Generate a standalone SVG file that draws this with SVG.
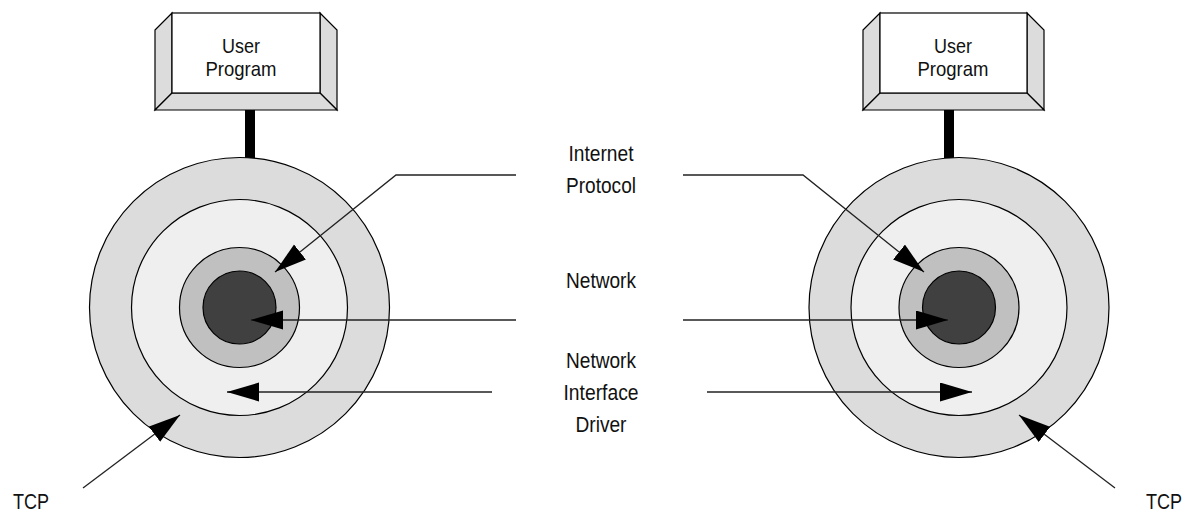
<svg xmlns="http://www.w3.org/2000/svg" width="1198" height="512" viewBox="0 0 1198 512">
  <style>
    .lbl { font-family: "Liberation Sans", Arial, sans-serif; font-size: 22px; fill: #111; }
    .box { font-size: 21px; }
    .mid { text-anchor: middle; }
    .edge { stroke: #000; stroke-width: 1.2; }
    .bevel { fill: #dcdcdc; stroke: #000; stroke-width: 1.2; stroke-linejoin: miter; }
    .face { fill: #fff; stroke: #000; stroke-width: 1.2; }
    .ring1 { fill: #dcdcdc; }
    .ring2 { fill: #efefef; }
    .ring3 { fill: #c0c0c0; }
    .core { fill: #404040; }
    .conn { fill: none; stroke: #222; stroke-width: 1.3; marker-end: url(#head); }
  </style>
  <defs>
    <marker id="head" markerUnits="userSpaceOnUse" markerWidth="33" markerHeight="20" refX="32" refY="9.5" orient="auto">
      <path d="M0,0 L32,9.5 L0,19 z" fill="#000"/>
    </marker>
  </defs>

  <rect width="1198" height="512" fill="#fff"/>

  <!-- left host: user program box -->
  <g id="user-program-left">
    <polygon class="bevel" points="155,30 172,13 172,93 155,110"/>
    <polygon class="bevel" points="320,13 337,30 337,110 320,93"/>
    <polygon class="bevel" points="172,93 320,93 337,110 155,110"/>
    <rect class="face" x="172" y="13" width="148" height="80"/>
    <text class="lbl box mid" x="241" y="53" textLength="38" lengthAdjust="spacingAndGlyphs">User</text>
    <text class="lbl box mid" x="241" y="76" textLength="71" lengthAdjust="spacingAndGlyphs">Program</text>
  </g>
  <g id="stem-left">
    <rect x="245" y="110" width="10" height="48" fill="#000"/>
  </g>

  <!-- left host: protocol layers -->
  <g id="layers-left" class="edge">
    <circle class="ring1" cx="239.5" cy="307.5" r="150"/>
    <circle class="ring2" cx="239.5" cy="307.5" r="108"/>
    <circle class="ring3" cx="239.5" cy="307.5" r="60"/>
    <circle class="core" cx="239.5" cy="307.5" r="36.5"/>
  </g>

  <!-- right host: user program box -->
  <g id="user-program-right">
    <polygon class="bevel" points="863,30 880,13 880,93 863,110"/>
    <polygon class="bevel" points="1027,13 1044,30 1044,110 1027,93"/>
    <polygon class="bevel" points="880,93 1027,93 1044,110 863,110"/>
    <rect class="face" x="880" y="13" width="147" height="80"/>
    <text class="lbl box mid" x="953" y="53" textLength="38" lengthAdjust="spacingAndGlyphs">User</text>
    <text class="lbl box mid" x="953" y="76" textLength="71" lengthAdjust="spacingAndGlyphs">Program</text>
  </g>
  <g id="stem-right">
    <rect x="944" y="110" width="10" height="48" fill="#000"/>
  </g>

  <!-- right host: protocol layers -->
  <g id="layers-right" class="edge">
    <circle class="ring1" cx="959" cy="307.5" r="150"/>
    <circle class="ring2" cx="959" cy="307.5" r="108"/>
    <circle class="ring3" cx="959" cy="307.5" r="60"/>
    <circle class="core" cx="959" cy="307.5" r="36.5"/>
  </g>

  <!-- layer labels -->
  <g id="labels">
    <text class="lbl mid" x="601" y="161" textLength="65" lengthAdjust="spacingAndGlyphs">Internet</text>
    <text class="lbl mid" x="601" y="193" textLength="70" lengthAdjust="spacingAndGlyphs">Protocol</text>
    <text class="lbl mid" x="601" y="288" textLength="70" lengthAdjust="spacingAndGlyphs">Network</text>
    <text class="lbl mid" x="601" y="368" textLength="70" lengthAdjust="spacingAndGlyphs">Network</text>
    <text class="lbl mid" x="601" y="400" textLength="75" lengthAdjust="spacingAndGlyphs">Interface</text>
    <text class="lbl mid" x="601" y="432" textLength="51" lengthAdjust="spacingAndGlyphs">Driver</text>
    <text class="lbl" x="13" y="509" textLength="36" lengthAdjust="spacingAndGlyphs">TCP</text>
    <text class="lbl" x="1146" y="509" textLength="36" lengthAdjust="spacingAndGlyphs">TCP</text>
  </g>

  <!-- pointer lines -->
  <g id="connectors">
    <polyline class="conn" points="516,175 396,175 275,272"/>
    <polyline class="conn" points="683,175 803,175 924,272"/>
    <line class="conn" x1="516" y1="320" x2="251" y2="320"/>
    <line class="conn" x1="683" y1="320" x2="948" y2="320"/>
    <line class="conn" x1="492" y1="392" x2="227" y2="392"/>
    <line class="conn" x1="707" y1="392" x2="972" y2="392"/>
    <line class="conn" x1="83" y1="488" x2="180" y2="415"/>
    <line class="conn" x1="1115" y1="488" x2="1019" y2="415"/>
  </g>
</svg>
